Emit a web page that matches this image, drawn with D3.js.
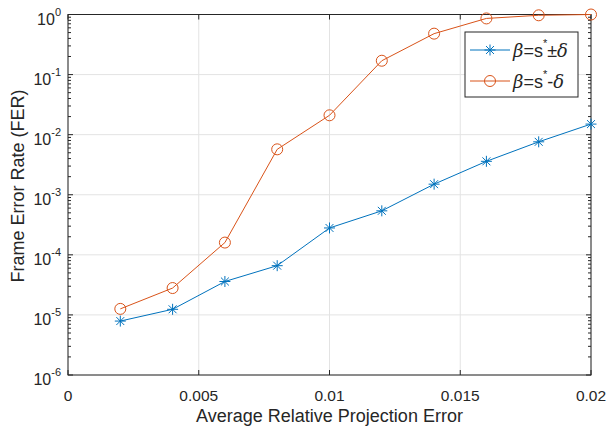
<!DOCTYPE html>
<html>
<head>
<meta charset="utf-8">
<script src="https://cdn.jsdelivr.net/npm/d3@7"></script>
<style>
body { margin:0; background:#fff; }
text { font-family: "Liberation Sans", Arial, sans-serif; fill:#262626; }
</style>
</head>
<body>
<div class="visualisation"></div>
<script>
// data
var xValues = [0.002, 0.004, 0.006, 0.008, 0.010, 0.012, 0.014, 0.016, 0.018, 0.020];
var ferPlusMinus = [7.9e-6, 1.24e-5, 3.6e-5, 6.6e-5, 2.8e-4, 5.4e-4, 1.5e-3, 3.6e-3, 7.6e-3, 1.5e-2];
var ferMinus     = [1.26e-5, 2.8e-5, 1.6e-4, 5.7e-3, 2.1e-2, 0.17, 0.48, 0.86, 0.97, 1.0];
var xTicks = [0, 0.005, 0.01, 0.015, 0.02];
var xTickLabels = ["0", "0.005", "0.01", "0.015", "0.02"];
var yExponents = [0, -1, -2, -3, -4, -5, -6];

var W = 608, H = 429;
var margin = {top:14.5, right:17, bottom:54, left:68};
var dim = {width: W - margin.left - margin.right, height: H - margin.top - margin.bottom};

var svg = d3.select(".visualisation").append("svg")
    .attr("width", W).attr("height", H);
var g = svg.append("g")
    .attr("transform", "translate(" + margin.left + "," + margin.top + ")");

var x = d3.scaleLinear().domain([0, 0.02]).range([0, dim.width]);
var y = d3.scaleLog().domain([1e-6, 1]).range([dim.height, 0]);

// grid
g.selectAll(".xgrid").data(xTicks).enter().append("line")
    .attr("x1", d => x(d)).attr("x2", d => x(d))
    .attr("y1", 0).attr("y2", dim.height)
    .attr("stroke", "#e3e3e3").attr("stroke-width", 1);
g.selectAll(".ygrid").data(yExponents).enter().append("line")
    .attr("x1", 0).attr("x2", dim.width)
    .attr("y1", d => y(Math.pow(10, d))).attr("y2", d => y(Math.pow(10, d)))
    .attr("stroke", "#e3e3e3").attr("stroke-width", 1);

// ticks (inward, both sides)
var axisColor = "#262626";
var minor = [];
for (var e = -6; e < 0; e++) for (var k = 2; k <= 9; k++) minor.push(k * Math.pow(10, e));

function tick(x1, y1, x2, y2) {
  g.append("line").attr("x1", x1).attr("y1", y1).attr("x2", x2).attr("y2", y2)
    .attr("stroke", axisColor).attr("stroke-width", 1);
}
xTicks.forEach(function(t){
  tick(x(t), dim.height, x(t), dim.height - 5);
  tick(x(t), 0, x(t), 5);
});
yExponents.forEach(function(e){
  var yy = y(Math.pow(10, e));
  tick(0, yy, 5, yy);
  tick(dim.width, yy, dim.width - 5, yy);
});
minor.forEach(function(v){
  var yy = y(v);
  tick(0, yy, 3, yy);
  tick(dim.width, yy, dim.width - 3, yy);
});

// box
g.append("rect").attr("x", 0).attr("y", 0).attr("width", dim.width).attr("height", dim.height)
  .attr("fill", "none").attr("stroke", axisColor).attr("stroke-width", 1);

// tick labels
g.selectAll(".xlab").data(xTicks).enter().append("text")
  .attr("x", d => x(d)).attr("y", dim.height + 26)
  .attr("text-anchor", "middle").style("font-size", "15.5px")
  .text((d, i) => xTickLabels[i]);

yExponents.forEach(function(e){
  var t = g.append("text")
    .attr("x", -7).attr("y", y(Math.pow(10, e)) + 10)
    .attr("text-anchor", "end").style("font-size", "16px");
  t.append("tspan").text("10");
  t.append("tspan").attr("dy", -9).style("font-size", "11px").text(String(e));
});

// axis titles
svg.append("text").attr("x", margin.left + dim.width / 2).attr("y", 422)
  .attr("text-anchor", "middle").style("font-size", "18px")
  .text("Average Relative Projection Error");
svg.append("text")
  .attr("transform", "translate(24,186) rotate(-90)")
  .attr("text-anchor", "middle").style("font-size", "18px")
  .text("Frame Error Rate (FER)");

// series
var blue = "#0072BD", red = "#D95319";
var line = d3.line().x(d => x(d[0])).y(d => y(d[1]));
var s1 = xValues.map((v, i) => [v, ferPlusMinus[i]]);
var s2 = xValues.map((v, i) => [v, ferMinus[i]]);

g.append("path").datum(s1).attr("d", line).attr("fill", "none").attr("stroke", blue).attr("stroke-width", 1);
g.append("path").datum(s2).attr("d", line).attr("fill", "none").attr("stroke", red).attr("stroke-width", 1);

function star(sel, cx, cy, r, color) {
  var d = r * 0.72;
  var p = "M" + (cx - r) + "," + cy + "L" + (cx + r) + "," + cy +
          "M" + cx + "," + (cy - r) + "L" + cx + "," + (cy + r) +
          "M" + (cx - d) + "," + (cy - d) + "L" + (cx + d) + "," + (cy + d) +
          "M" + (cx - d) + "," + (cy + d) + "L" + (cx + d) + "," + (cy - d);
  sel.append("path").attr("d", p).attr("stroke", color).attr("stroke-width", 1).attr("fill", "none");
}
s1.forEach(function(d){ star(g, x(d[0]), y(d[1]), 5.5, blue); });
g.selectAll(".circ").data(s2).enter().append("circle")
  .attr("cx", d => x(d[0])).attr("cy", d => y(d[1])).attr("r", 5.5)
  .attr("fill", "none").attr("stroke", red).attr("stroke-width", 1);

// legend
var lg = svg.append("g").attr("transform", "translate(465,32)");
lg.append("rect").attr("width", 113).attr("height", 65)
  .attr("fill", "#fff").attr("stroke", axisColor).attr("stroke-width", 1);
var legendItems = [{c: blue, m: "star", op: "\u00b1", y: 18}, {c: red, m: "circle", op: "-", y: 49}];
legendItems.forEach(function(it){
  lg.append("line").attr("x1", 5).attr("x2", 45).attr("y1", it.y).attr("y2", it.y)
    .attr("stroke", it.c).attr("stroke-width", 1);
  if (it.m == "star") star(lg, 25, it.y, 5.5, it.c);
  else lg.append("circle").attr("cx", 25).attr("cy", it.y).attr("r", 5.5)
        .attr("fill", "none").attr("stroke", it.c).attr("stroke-width", 1);
  var t = lg.append("text").attr("x", 48).attr("y", it.y + 7).style("font-size", "18px");
  t.append("tspan").style("font-style", "italic").style("font-family", "DejaVu Serif, serif").text("\u03b2");
  t.append("tspan").text("=s");
  t.append("tspan").attr("dy", -10).style("font-size", "11px").text("*");
  t.append("tspan").attr("dy", 10).text(it.op);
  t.append("tspan").style("font-style", "italic").style("font-family", "DejaVu Serif, serif").text("\u03b4");
});
</script>
</body>
</html>
